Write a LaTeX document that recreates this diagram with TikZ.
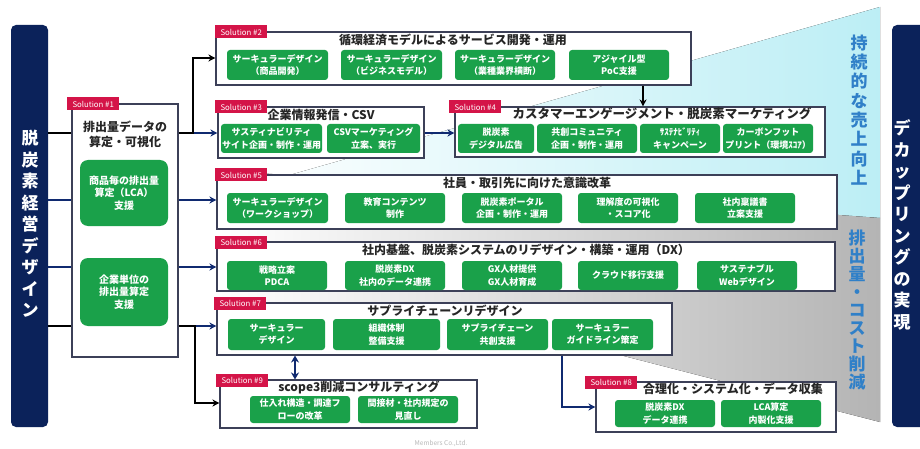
\documentclass[tikz,border=0pt]{standalone}
\usepackage{fontspec}
\setmainfont{Noto Sans CJK JP}
\usetikzlibrary{arrows.meta}
\definecolor{navybar}{RGB}{11,34,90}
\definecolor{solred}{RGB}{212,20,72}
\definecolor{gfill}{RGB}{26,161,74}
\definecolor{boxline}{RGB}{60,64,88}
\definecolor{arrnavy}{RGB}{16,42,112}
\definecolor{tblue}{RGB}{48,128,200}
\definecolor{cyanbg}{RGB}{188,238,245}
\definecolor{graybg}{RGB}{180,180,180}
\tikzset{
  solbox/.style={draw=boxline, line width=1.1pt, fill=white, inner sep=0pt},
  gbox/.style={fill=gfill, rounded corners=3pt, inner sep=0pt, text=white, align=center,
    font=\fontsize{9}{12.3}\selectfont\bfseries},
  sollab/.style={fill=solred, text=white, minimum width=52pt, minimum height=13pt, inner sep=0pt,
    font=\fontsize{7.8}{8}\selectfont},
  ttl/.style={font=\fontsize{12}{15}\selectfont\bfseries, inner sep=0pt, align=center, text=black!85},
  vtxt/.style={align=center, inner sep=0pt, font=\fontsize{17}{21.5}\selectfont\bfseries},
  barbox/.style={fill=navybar, rounded corners=5pt, inner sep=0pt},
  blkline/.style={line width=2.6pt, black},
  navyline/.style={line width=2pt, arrnavy},
  tip/.style={-{Stealth[length=7pt,width=7pt]}}
}
\newcommand\mkgreen[6]{\node[gbox,minimum width={#4-#2},minimum height={#5-#3}] (#1) at ({(#2+#4)/2},{(#3+#5)/2}) {#6};}
\newcommand\mksol[7]{%
  \node[solbox,minimum width={#4-#2},minimum height={#5-#3}] (#1) at ({(#2+#4)/2},{(#3+#5)/2}) {};
  \node[sollab,anchor=west] (#1lab) at (#6,#3) {Solution \##7};}
\begin{document}
\begin{tikzpicture}[x=1pt,y=-1pt]
\useasboundingbox (0,0) rectangle (920,449);
\fill[white] (0,0) rectangle (920,449);
% background wedges
\fill[left color=white, middle color=cyanbg!80, right color=cyanbg] (230,192) -- (880,7) -- (880,218) -- cycle;
\fill[left color=white, middle color=graybg!75, right color=graybg] (217,170) -- (880,218) -- (880,422) -- (620,355) -- (217,300) -- cycle;
% side bars
\node[barbox, minimum width=37, minimum height=402] (lb) at (29.5,226) {};
\node[vtxt, text=white] (lbt) at (30,224) {脱\\炭\\素\\経\\営\\デ\\ザ\\イ\\ン};
\node[barbox, minimum width=42, minimum height=402] (rb) at (913,226) {};
\node[vtxt, text=white] (rbt) at (902,225) {デ\\カ\\ッ\\プ\\リ\\ン\\グ\\の\\実\\現};
\node[vtxt, text=tblue, font=\fontsize{17}{19.3}\selectfont\bfseries] (up) at (859,110) {持\\続\\的\\な\\売\\上\\向\\上};
\node[vtxt, text=tblue, font=\fontsize{17}{18}\selectfont\bfseries] (down) at (857,310) {排\\出\\量\\・\\コ\\ス\\ト\\削\\減};
% Solution 1
\mksol{s1}{72}{104}{178}{357}{67}{1}
\node[ttl] (s1t) at (125,134) {排出量データの\\算定・可視化};
\node[gbox, rounded corners=8pt, minimum width=88, minimum height=66, font=\fontsize{10}{12.5}\selectfont\bfseries] (s1a) at (124,193) {商品毎の排出量\\算定（LCA）\\支援};
\node[gbox, rounded corners=8pt, minimum width=88, minimum height=68, font=\fontsize{10}{12.5}\selectfont\bfseries] (s1b) at (124,292) {企業単位の\\排出量算定\\支援};
% Solution 2
\mksol{s2}{216}{32}{691}{85}{215}{2}
\node[ttl] (s2t) at (453,40) {循環経済モデルによるサービス開発・運用};
\mkgreen{s2a}{227}{50}{328}{80}{サーキュラーデザイン\\（商品開発）}
\mkgreen{s2b}{341}{50}{442}{80}{サーキュラーデザイン\\（ビジネスモデル）}
\mkgreen{s2c}{455}{50}{555}{80}{サーキュラーデザイン\\（業種業界横断）}
\mkgreen{s2d}{569}{50}{669}{80}{アジャイル型\\PoC支援}
% Solution 3
\mksol{s3}{218}{107}{424}{158}{215}{3}
\node[ttl] (s3t) at (321,115) {企業情報発信・CSV};
\mkgreen{s3a}{221}{124}{322}{153}{サスティナビリティ\\サイト企画・制作・運用}
\mkgreen{s3b}{327}{124}{420}{153}{CSVマーケティング\\立案、実行}
% Solution 4
\mksol{s4}{455}{107}{825}{157}{449}{4}
\node[ttl, font=\fontsize{12.5}{15}\selectfont\bfseries] (s4t) at (662,114) {カスタマーエンゲージメント・脱炭素マーケティング};
\mkgreen{s4a}{458}{124}{534}{153}{脱炭素\\デジタル広告}
\mkgreen{s4b}{537}{124}{637}{153}{共創コミュニティ\\企画・制作・運用}
\mkgreen{s4c}{640}{124}{720}{153}{ｻｽﾃﾅﾋﾞﾘﾃｨ\\キャンペーン}
\mkgreen{s4d}{723}{124}{813}{153}{カーボンフット\\プリント（環境ｽｺｱ）}
% Solution 5
\mksol{s5}{217}{175}{837}{229}{215}{5}
\node[ttl] (s5t) at (527,183) {社員・取引先に向けた意識改革};
\mkgreen{s5a}{227}{193}{328}{223}{サーキュラーデザイン\\（ワークショップ）}
\mkgreen{s5b}{345}{193}{445}{223}{教育コンテンツ\\制作}
\mkgreen{s5c}{462}{193}{562}{223}{脱炭素ポータル\\企画・制作・運用}
\mkgreen{s5d}{578}{193}{678}{223}{理解度の可視化\\・スコア化}
\mkgreen{s5e}{695}{193}{795}{223}{社内稟議書\\立案支援}
% Solution 6
\mksol{s6}{217}{242}{835}{291}{215}{6}
\node[ttl] (s6t) at (526,250) {社内基盤、脱炭素システムのリデザイン・構築・運用（DX）};
\mkgreen{s6a}{227}{261}{327}{290}{戦略立案\\PDCA}
\mkgreen{s6b}{345}{261}{445}{290}{脱炭素DX\\社内のデータ連携}
\mkgreen{s6c}{462}{261}{562}{290}{GX人材提供\\GX人材育成}
\mkgreen{s6d}{578}{261}{678}{290}{クラウド移行支援}
\mkgreen{s6e}{697}{261}{797}{290}{サステナブル\\Webデザイン}
% Solution 7
\mksol{s7}{217}{303}{672}{355}{214}{7}
\node[ttl] (s7t) at (445,311) {サプライチェーンリデザイン};
\mkgreen{s7a}{228}{319}{325}{350}{サーキュラー\\デザイン}
\mkgreen{s7b}{333}{319}{440}{350}{組織体制\\整備支援}
\mkgreen{s7c}{447}{319}{548}{350}{サプライチェーン\\共創支援}
\mkgreen{s7d}{552}{319}{653}{350}{サーキュラー\\ガイドライン策定}
% Solution 9
\mksol{s9}{220}{380}{477}{428}{216}{9}
\node[ttl] (s9t) at (359,387) {scope3削減コンサルティング};
\mkgreen{s9a}{250}{396}{350}{423}{仕入れ構造・調達フ\\ローの改革}
\mkgreen{s9b}{358}{396}{458}{423}{間接材・社内規定の\\見直し}
% Solution 8
\mksol{s8}{596}{382}{836}{432}{585}{8}
\node[ttl] (s8t) at (733,389) {合理化・システム化・データ収集};
\mkgreen{s8a}{615}{400}{715}{427}{脱炭素DX\\データ連携}
\mkgreen{s8b}{721}{400}{821}{427}{LCA算定\\内製化支援}
% footer
\node[font=\fontsize{6.5}{7}\selectfont, text=black!28, inner sep=0pt] (foot) at (441,444) {Members Co.,Ltd.};
% connectors
\coordinate (j1) at (193,133);
\coordinate (j2) at (195,326);
\draw[blkline] (lb.east |- j1) -- (s1.west |- j1);
\draw[navyline,tip] (j1) -- (s3.west |- j1);
\draw[blkline,tip] (s1.east |- j1) -- (j1) |- (s2.west |- 0,58);
\draw[navyline] (lb.east |- 0,200) -- (s1.west |- 0,200);
\draw[navyline,tip] (s1.east |- 0,200) -- (s5.west |- 0,200);
\draw[navyline] (lb.east |- 0,267) -- (s1.west |- 0,267);
\draw[navyline,tip] (s1.east |- 0,267) -- (s6.west |- 0,267);
\draw[blkline] (lb.east |- j2) -- (s1.west |- j2);
\draw[navyline,tip] (j2) -- (s7.west |- j2);
\draw[blkline,tip] (s1.east |- j2) -- (j2) |- (s9.west |- 0,403);
\draw[blkline,tip] (s2.south -| 643,0) -- (s4.north -| 643,0);
\draw[navyline,tip] (s3.east |- 0,133) -- (s4.west |- 0,133);
\draw[navyline,{Stealth[length=7pt,width=8pt]}-{Stealth[length=7pt,width=8pt]}] (s7.south -| 295,0) -- (s9.north -| 295,0);
\draw[navyline,tip] (s7.south -| 562,0) |- (s8.west |- 0,407);
\end{tikzpicture}
\end{document}
